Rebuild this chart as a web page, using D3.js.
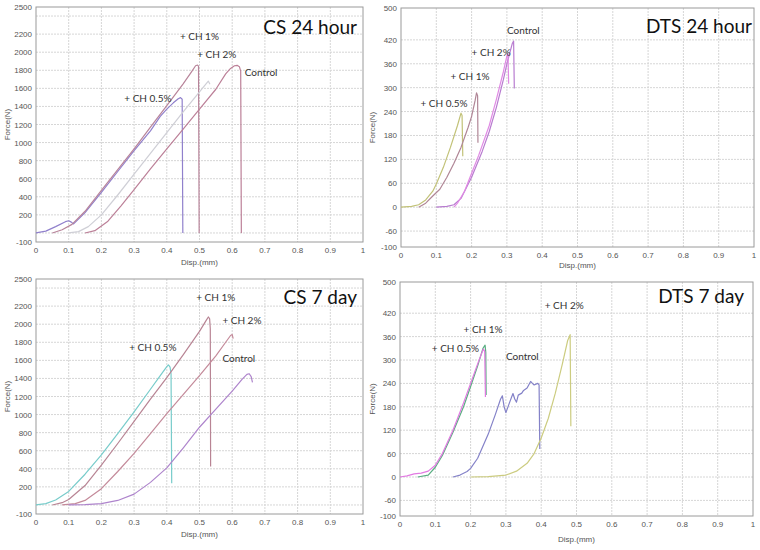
<!DOCTYPE html>
<html>
<head>
<meta charset="utf-8">
<script src="https://cdn.jsdelivr.net/npm/d3@7/dist/d3.min.js"></script>
<style>
  body { margin: 0; background: #fff; }
  .tick-label { font-family: "Liberation Sans", Arial, sans-serif; font-size: 8px; fill: #555; }
  .axis-title { font-family: "Liberation Sans", Arial, sans-serif; font-size: 8px; fill: #555; }
  .note { font-family: Lato, "Open Sans", sans-serif; font-size: 10px; fill: #333; }
  .title { font-family: Lato, "Open Sans", sans-serif; font-size: 19px; fill: #111; }
</style>
</head>
<body>
<svg class="face" width="760" height="550"></svg>
<script>
// axis ticks
const dispTicks = [0, 0.1, 0.2, 0.3, 0.4, 0.5, 0.6, 0.7, 0.8, 0.9, 1];
const csTickLabels = [-100, 200, 400, 600, 800, 1000, 1200, 1400, 1600, 1800, 2000, 2200, 2500];
const csGrid = [0, 200, 400, 600, 800, 1000, 1200, 1400, 1600, 1800, 2000, 2200, 2400];
const dtsTickLabels = [-100, -60, 0, 60, 120, 180, 240, 300, 360, 420, 500];
const dtsGrid = [-60, 0, 60, 120, 180, 240, 300, 360, 420];

// CS 24 hour  [disp (mm), force (N)]
const cs24Ch05 = [[0,0],[0.03,20],[0.06,70],[0.09,125],[0.1,135],[0.108,120],[0.115,100],[0.15,225],[0.2,450],
  [0.25,680],[0.3,910],[0.35,1130],[0.38,1290],[0.4,1370],[0.42,1440],[0.435,1485],[0.442,1497],[0.447,1480],[0.449,0]];
const cs24Ch1 = [[0.05,0],[0.08,35],[0.11,95],[0.15,240],[0.2,470],[0.25,700],[0.3,930],[0.35,1170],[0.4,1410],
  [0.45,1650],[0.475,1780],[0.488,1850],[0.494,1858],[0.497,1845],[0.499,0]];
const cs24Ch2 = [[0.1,0],[0.13,15],[0.16,70],[0.2,200],[0.25,420],[0.3,650],[0.35,880],[0.4,1110],[0.45,1340],
  [0.5,1560],[0.52,1650],[0.527,1680],[0.532,1645]];
const cs24Control = [[0.15,0],[0.18,25],[0.22,130],[0.26,300],[0.3,480],[0.35,710],[0.4,930],[0.45,1150],[0.5,1370],
  [0.55,1590],[0.58,1760],[0.595,1820],[0.607,1850],[0.615,1855],[0.622,1840],[0.626,1790],[0.628,0]];

// DTS 24 hour
const dts24Ch05 = [[0,0],[0.03,2],[0.05,6],[0.07,18],[0.09,40],[0.1,58],[0.12,100],[0.14,150],[0.16,205],
  [0.17,236],[0.173,230],[0.175,128]];
const dts24Ch1 = [[0.05,0],[0.07,10],[0.09,28],[0.11,45],[0.13,75],[0.15,110],[0.17,150],[0.19,200],[0.2,228],
  [0.21,268],[0.214,287],[0.217,280],[0.218,162]];
const dts24Ch2 = [[0.15,0],[0.16,10],[0.18,40],[0.2,85],[0.22,130],[0.25,205],[0.27,270],[0.29,340],[0.3,380],
  [0.303,385],[0.305,310]];
const dts24Control = [[0.1,0],[0.13,2],[0.15,6],[0.17,22],[0.2,75],[0.23,140],[0.25,190],[0.27,250],[0.29,320],
  [0.3,360],[0.315,410],[0.319,417],[0.321,298]];

// CS 7 day
const cs7Ch05 = [[0,0],[0.03,15],[0.06,55],[0.1,150],[0.15,340],[0.2,555],[0.25,790],[0.3,1030],[0.35,1280],
  [0.38,1430],[0.4,1530],[0.405,1550],[0.41,1525],[0.413,1450],[0.415,240]];
const cs7Ch1 = [[0.05,0],[0.08,25],[0.1,60],[0.15,215],[0.2,440],[0.25,680],[0.3,925],[0.35,1170],[0.4,1410],
  [0.45,1660],[0.5,1920],[0.52,2040],[0.527,2080],[0.531,2060],[0.533,1950],[0.534,425]];
const cs7Ch2 = [[0.08,0],[0.12,15],[0.15,50],[0.2,180],[0.25,370],[0.3,570],[0.35,790],[0.4,1010],[0.45,1220],
  [0.5,1430],[0.55,1650],[0.58,1800],[0.595,1875],[0.6,1885],[0.603,1840]];
const cs7Control = [[0.1,0],[0.15,3],[0.2,15],[0.25,50],[0.3,120],[0.35,250],[0.4,410],[0.45,630],[0.5,860],
  [0.55,1060],[0.6,1260],[0.63,1390],[0.645,1445],[0.652,1452],[0.658,1420],[0.662,1355]];

// DTS 7 day
const dts7Ch05 = [[0,0],[0.02,3],[0.04,8],[0.06,10],[0.08,15],[0.1,30],[0.12,60],[0.15,120],[0.18,190],
  [0.2,240],[0.22,290],[0.236,328],[0.24,322],[0.242,205]];
const dts7Ch1 = [[0.05,0],[0.08,5],[0.1,25],[0.12,55],[0.15,115],[0.18,180],[0.2,232],[0.22,285],[0.235,330],
  [0.241,338],[0.243,320],[0.244,210]];
const dts7Control = [[0.15,0],[0.17,5],[0.19,14],[0.2,22],[0.22,48],[0.25,110],[0.27,160],[0.285,200],[0.29,208],
  [0.295,180],[0.3,165],[0.31,190],[0.32,214],[0.325,200],[0.33,192],[0.335,210],[0.345,215],[0.35,222],
  [0.36,228],[0.37,245],[0.375,240],[0.38,236],[0.39,240],[0.394,236],[0.396,72]];
const dts7Ch2 = [[0.2,0],[0.25,1],[0.3,5],[0.33,15],[0.36,35],[0.38,60],[0.4,100],[0.42,150],[0.44,215],
  [0.46,290],[0.475,350],[0.482,365],[0.484,130]];

const panels = [
  { title: 'CS 24 hour', box: {l: 36, r: 363, t: 7, b: 242}, yDomain: [-100, 2500],
    yTicks: csTickLabels, yGrid: csGrid,
    series: [
      {data: cs24Ch05, color: '#9080cc'}, {data: cs24Ch1, color: '#b8849a'},
      {data: cs24Ch2, color: '#cfcfd6'}, {data: cs24Control, color: '#bc8098'}],
    notes: [['+ CH 1%', 0.44, 2130], ['+ CH 2%', 0.493, 1935], ['Control', 0.638, 1740], ['+ CH 0.5%', 0.27, 1450]],
    titleAt: [357, 34], yTitleX: 10, xTitleY: 265 },
  { title: 'DTS 24 hour', box: {l: 401, r: 754, t: 8, b: 247}, yDomain: [-100, 500],
    yTicks: dtsTickLabels, yGrid: dtsGrid,
    series: [
      {data: dts24Ch05, color: '#c2c278'}, {data: dts24Ch1, color: '#b08696'},
      {data: dts24Control, color: '#b87cd0'}, {data: dts24Ch2, color: '#e08ae4'}],
    notes: [['Control', 0.3, 435], ['+ CH 2%', 0.2, 380], ['+ CH 1%', 0.14, 318], ['+ CH 0.5%', 0.055, 252]],
    titleAt: [752, 33], yTitleX: 375, xTitleY: 268 },
  { title: 'CS 7 day', box: {l: 36, r: 363, t: 279, b: 514}, yDomain: [-100, 2500],
    yTicks: csTickLabels, yGrid: csGrid,
    series: [
      {data: cs7Ch05, color: '#78cccb'}, {data: cs7Ch1, color: '#b88494'},
      {data: cs7Ch2, color: '#c48a9a'}, {data: cs7Control, color: '#ae84cc'}],
    notes: [['+ CH 1%', 0.49, 2255], ['+ CH 2%', 0.57, 2005], ['Control', 0.57, 1585], ['+ CH 0.5%', 0.285, 1700]],
    titleAt: [357, 304], yTitleX: 10, xTitleY: 537 },
  { title: 'DTS 7 day', box: {l: 400, r: 753, t: 282, b: 516}, yDomain: [-100, 500],
    yTicks: dtsTickLabels, yGrid: dtsGrid,
    series: [
      {data: dts7Ch1, color: '#5aae82'}, {data: dts7Ch05, color: '#e27ae2'},
      {data: dts7Control, color: '#8482c8'}, {data: dts7Ch2, color: '#cccc80'}],
    notes: [['+ CH 2%', 0.41, 430], ['+ CH 1%', 0.18, 370], ['+ CH 0.5%', 0.09, 320], ['Control', 0.3, 300]],
    titleAt: [744, 303], yTitleX: 375, xTitleY: 542 }
];

const svg = d3.select('.face');

panels.forEach(p => {
  const x = d3.scaleLinear().domain([0, 1]).range([p.box.l, p.box.r]);
  const y = d3.scaleLinear().domain(p.yDomain).range([p.box.b, p.box.t]);
  const g = svg.append('g');

  // grid
  g.selectAll('.vgrid').data(dispTicks.slice(1, -1)).enter().append('line')
    .attr('x1', d => x(d)).attr('x2', d => x(d))
    .attr('y1', p.box.t).attr('y2', p.box.b)
    .attr('stroke', '#d6d6d6').attr('stroke-width', 1).attr('stroke-dasharray', '2,1');
  g.selectAll('.hgrid').data(p.yGrid).enter().append('line')
    .attr('x1', p.box.l).attr('x2', p.box.r)
    .attr('y1', d => y(d)).attr('y2', d => y(d))
    .attr('stroke', '#d6d6d6').attr('stroke-width', 1).attr('stroke-dasharray', '2,1');

  // frame
  g.append('rect')
    .attr('x', p.box.l).attr('y', p.box.t)
    .attr('width', p.box.r - p.box.l).attr('height', p.box.b - p.box.t)
    .attr('fill', 'none').attr('stroke', '#9a9a9a');

  // tick labels
  g.selectAll('.xl').data(dispTicks).enter().append('text')
    .attr('class', 'tick-label')
    .attr('x', d => x(d)).attr('y', p.box.b + 11)
    .attr('text-anchor', 'middle')
    .text(d => d);
  g.selectAll('.yl').data(p.yTicks).enter().append('text')
    .attr('class', 'tick-label')
    .attr('x', p.box.l - 4).attr('y', d => y(d) + 3)
    .attr('text-anchor', 'end')
    .text(d => d);

  // axis titles
  g.append('text').attr('class', 'axis-title')
    .attr('x', (p.box.l + p.box.r) / 2).attr('y', p.xTitleY)
    .attr('text-anchor', 'middle').text('Disp.(mm)');
  g.append('text').attr('class', 'axis-title')
    .attr('transform', `translate(${p.yTitleX},${(p.box.t + p.box.b) / 2}) rotate(-90)`)
    .attr('text-anchor', 'middle').text('Force(N)');

  // curves
  const line = d3.line().x(d => x(d[0])).y(d => y(d[1])).curve(d3.curveLinear);
  g.selectAll('.curve').data(p.series).enter().append('path')
    .attr('d', d => line(d.data))
    .attr('fill', 'none')
    .attr('stroke', d => d.color)
    .attr('stroke-width', 1.2)
    .attr('stroke-linejoin', 'round');

  // annotations
  g.selectAll('.note').data(p.notes).enter().append('text')
    .attr('class', 'note')
    .attr('x', d => x(d[1])).attr('y', d => y(d[2]))
    .text(d => d[0]);

  g.append('text').attr('class', 'title')
    .attr('x', p.titleAt[0]).attr('y', p.titleAt[1])
    .attr('text-anchor', 'end')
    .text(p.title);
});
</script>
</body>
</html>
